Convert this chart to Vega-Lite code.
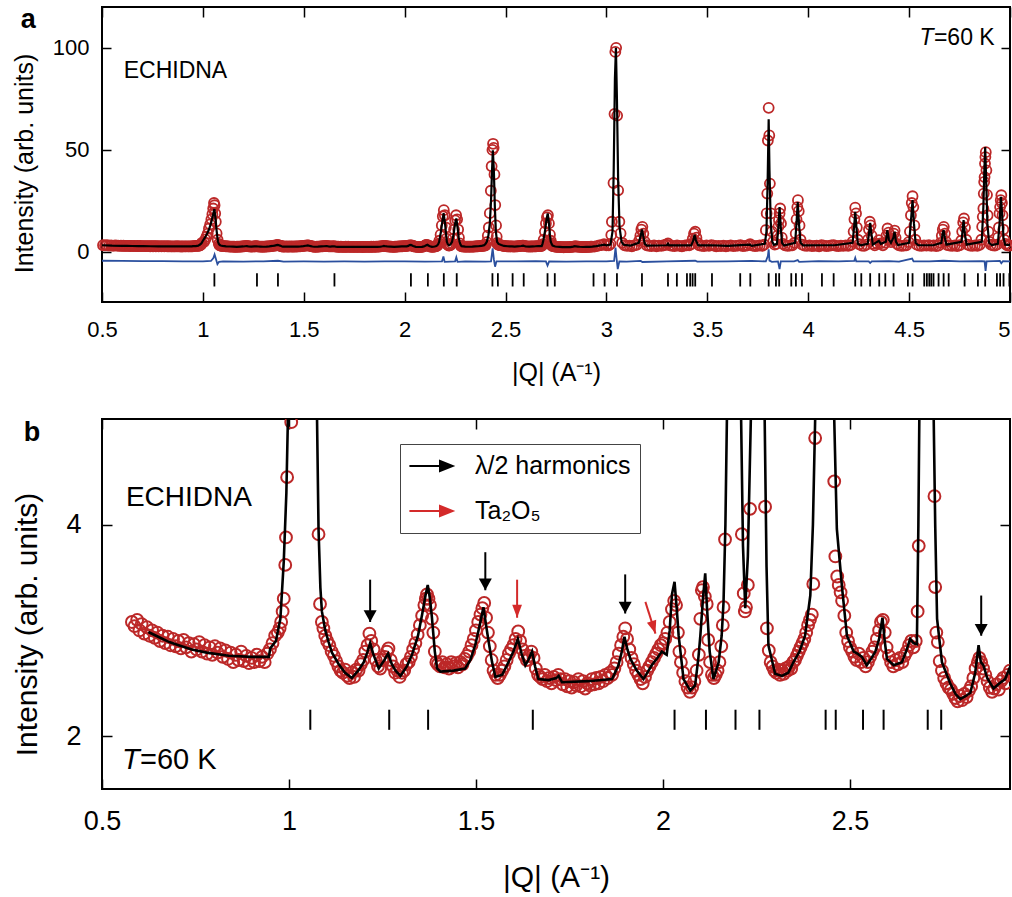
{
"$schema": "https://vega.github.io/schema/vega-lite/v6.json",
"background": "white",
"padding": {"left": 11, "top": 5, "right": 3, "bottom": 3},
"spacing": 31,
"datasets": {
"obs": [
{"q":0.505,"o":3.3},{"q":0.515,"o":3.2},{"q":0.525,"o":3.3},{"q":0.535,"o":3.1},{"q":0.545,"o":3.2},{"q":0.555,"o":3.0},{"q":0.565,"o":3.2},{"q":0.573,"o":3.1},
{"q":0.580,"o":3.08},{"q":0.587,"o":3.04},{"q":0.594,"o":3.10},{"q":0.600,"o":3.00},{"q":0.606,"o":3.06},{"q":0.613,"o":2.97},{"q":0.620,"o":3.03},{"q":0.627,"o":2.95},{"q":0.634,"o":3.00},{"q":0.641,"o":2.93},{"q":0.648,"o":2.98},{"q":0.655,"o":2.90},{"q":0.662,"o":2.95},{"q":0.669,"o":2.88},{"q":0.676,"o":2.94},{"q":0.683,"o":2.86},{"q":0.690,"o":2.92},{"q":0.697,"o":2.85},{"q":0.704,"o":2.90},{"q":0.711,"o":2.83},{"q":0.718,"o":2.91},{"q":0.725,"o":2.84},{"q":0.732,"o":2.88},{"q":0.739,"o":2.80},{"q":0.746,"o":2.87},{"q":0.753,"o":2.82},{"q":0.760,"o":2.89},{"q":0.767,"o":2.80},{"q":0.774,"o":2.86},{"q":0.781,"o":2.78},{"q":0.788,"o":2.84},{"q":0.795,"o":2.77},{"q":0.802,"o":2.85},{"q":0.809,"o":2.79},{"q":0.816,"o":2.83},{"q":0.823,"o":2.75},{"q":0.830,"o":2.81},{"q":0.837,"o":2.73},{"q":0.844,"o":2.79},{"q":0.851,"o":2.70},{"q":0.858,"o":2.77},{"q":0.865,"o":2.72},{"q":0.872,"o":2.80},{"q":0.879,"o":2.71},{"q":0.886,"o":2.76},{"q":0.893,"o":2.69},{"q":0.900,"o":2.74},{"q":0.907,"o":2.70},{"q":0.914,"o":2.77},{"q":0.921,"o":2.71},{"q":0.928,"o":2.75},{"q":0.935,"o":2.70},{"q":0.942,"o":2.78},{"q":0.949,"o":2.82},{"q":0.956,"o":2.88},{"q":0.963,"o":2.95},{"q":0.970,"o":2.98},{"q":0.975,"o":3.02},{"q":0.979,"o":3.08},{"q":0.983,"o":3.18},{"q":0.986,"o":3.30},{"q":0.990,"o":3.62},{"q":0.992,"o":3.88},{"q":0.995,"o":4.45},{"q":1.006,"o":4.97},{"q":1.012,"o":6.2},{"q":1.018,"o":7.5},{"q":1.024,"o":9.0},{"q":1.030,"o":11.5},{"q":1.036,"o":13.5},{"q":1.042,"o":16.0},{"q":1.047,"o":18.5},{"q":1.051,"o":21.3},{"q":1.055,"o":24.0},{"q":1.058,"o":22.9},{"q":1.061,"o":18.9},{"q":1.064,"o":14.8},{"q":1.068,"o":9.1},{"q":1.073,"o":6.0},{"q":1.079,"o":3.91},{"q":1.083,"o":3.25},{"q":1.088,"o":3.08},{"q":1.092,"o":3.02},{"q":1.097,"o":2.95},{"q":1.102,"o":2.90},{"q":1.108,"o":2.86},{"q":1.114,"o":2.80},{"q":1.120,"o":2.76},{"q":1.126,"o":2.71},{"q":1.132,"o":2.66},{"q":1.138,"o":2.62},{"q":1.144,"o":2.60},{"q":1.150,"o":2.63},{"q":1.156,"o":2.57},{"q":1.162,"o":2.55},{"q":1.168,"o":2.60},{"q":1.174,"o":2.56},{"q":1.180,"o":2.63},{"q":1.186,"o":2.62},{"q":1.192,"o":2.68},{"q":1.198,"o":2.72},{"q":1.204,"o":2.80},{"q":1.210,"o":2.86},{"q":1.215,"o":2.97},{"q":1.220,"o":2.90},{"q":1.226,"o":2.82},{"q":1.232,"o":2.72},{"q":1.238,"o":2.66},{"q":1.244,"o":2.64},{"q":1.250,"o":2.72},{"q":1.256,"o":2.75},{"q":1.262,"o":2.80},{"q":1.266,"o":2.83},{"q":1.272,"o":2.72},{"q":1.278,"o":2.66},{"q":1.284,"o":2.60},{"q":1.290,"o":2.62},{"q":1.296,"o":2.56},{"q":1.302,"o":2.60},{"q":1.308,"o":2.62},{"q":1.314,"o":2.68},{"q":1.320,"o":2.70},{"q":1.326,"o":2.75},{"q":1.332,"o":2.82},{"q":1.338,"o":2.88},{"q":1.344,"o":2.96},{"q":1.350,"o":3.05},{"q":1.356,"o":3.14},{"q":1.362,"o":3.24},{"q":1.366,"o":3.30},{"q":1.369,"o":3.34},{"q":1.373,"o":3.30},{"q":1.377,"o":3.24},{"q":1.382,"o":3.11},{"q":1.386,"o":2.98},{"q":1.390,"o":2.80},{"q":1.394,"o":2.70},{"q":1.398,"o":2.68},{"q":1.404,"o":2.66},{"q":1.410,"o":2.70},{"q":1.416,"o":2.65},{"q":1.422,"o":2.68},{"q":1.428,"o":2.64},{"q":1.434,"o":2.70},{"q":1.440,"o":2.66},{"q":1.446,"o":2.69},{"q":1.452,"o":2.65},{"q":1.458,"o":2.70},{"q":1.464,"o":2.68},{"q":1.470,"o":2.73},{"q":1.476,"o":2.76},{"q":1.482,"o":2.80},{"q":1.488,"o":2.86},{"q":1.494,"o":2.92},{"q":1.500,"o":3.00},{"q":1.506,"o":3.08},{"q":1.512,"o":3.15},{"q":1.517,"o":3.21},{"q":1.522,"o":3.26},{"q":1.527,"o":3.12},{"q":1.532,"o":2.98},{"q":1.537,"o":2.85},{"q":1.542,"o":2.72},{"q":1.547,"o":2.62},{"q":1.552,"o":2.58},{"q":1.558,"o":2.55},{"q":1.564,"o":2.58},{"q":1.570,"o":2.62},{"q":1.576,"o":2.66},{"q":1.582,"o":2.72},{"q":1.588,"o":2.78},{"q":1.594,"o":2.82},{"q":1.600,"o":2.86},{"q":1.606,"o":2.92},{"q":1.613,"o":2.99},{"q":1.618,"o":2.90},{"q":1.624,"o":2.82},{"q":1.630,"o":2.76},{"q":1.636,"o":2.72},{"q":1.642,"o":2.76},{"q":1.648,"o":2.80},{"q":1.654,"o":2.74},{"q":1.660,"o":2.64},{"q":1.666,"o":2.58},{"q":1.672,"o":2.56},{"q":1.678,"o":2.54},{"q":1.684,"o":2.58},{"q":1.690,"o":2.52},{"q":1.696,"o":2.55},{"q":1.702,"o":2.50},{"q":1.708,"o":2.56},{"q":1.714,"o":2.53},{"q":1.720,"o":2.58},{"q":1.726,"o":2.54},{"q":1.732,"o":2.49},{"q":1.738,"o":2.54},{"q":1.744,"o":2.47},{"q":1.750,"o":2.52},{"q":1.756,"o":2.46},{"q":1.762,"o":2.51},{"q":1.768,"o":2.48},{"q":1.774,"o":2.54},{"q":1.780,"o":2.47},{"q":1.786,"o":2.52},{"q":1.792,"o":2.45},{"q":1.798,"o":2.50},{"q":1.804,"o":2.48},{"q":1.810,"o":2.54},{"q":1.816,"o":2.49},{"q":1.822,"o":2.55},{"q":1.828,"o":2.50},{"q":1.834,"o":2.56},{"q":1.840,"o":2.52},{"q":1.846,"o":2.58},{"q":1.852,"o":2.55},{"q":1.858,"o":2.60},{"q":1.864,"o":2.58},{"q":1.870,"o":2.64},{"q":1.876,"o":2.70},{"q":1.882,"o":2.78},{"q":1.888,"o":2.86},{"q":1.894,"o":2.94},{"q":1.899,"o":3.02},{"q":1.904,"o":2.92},{"q":1.910,"o":2.82},{"q":1.916,"o":2.74},{"q":1.922,"o":2.68},{"q":1.928,"o":2.62},{"q":1.934,"o":2.58},{"q":1.940,"o":2.54},{"q":1.946,"o":2.50},{"q":1.952,"o":2.56},{"q":1.958,"o":2.62},{"q":1.964,"o":2.66},{"q":1.970,"o":2.70},{"q":1.976,"o":2.74},{"q":1.982,"o":2.78},{"q":1.988,"o":2.82},{"q":1.994,"o":2.86},{"q":2.000,"o":2.88},{"q":2.006,"o":2.92},{"q":2.012,"o":2.98},{"q":2.018,"o":3.08},{"q":2.024,"o":3.20},{"q":2.030,"o":3.28},{"q":2.035,"o":3.24},{"q":2.040,"o":2.98},{"q":2.044,"o":2.80},{"q":2.048,"o":2.70},{"q":2.054,"o":2.60},{"q":2.060,"o":2.52},{"q":2.066,"o":2.46},{"q":2.072,"o":2.42},{"q":2.078,"o":2.46},{"q":2.084,"o":2.52},{"q":2.090,"o":2.62},{"q":2.096,"o":2.77},{"q":2.100,"o":3.11},{"q":2.104,"o":3.38},{"q":2.107,"o":3.41},{"q":2.112,"o":3.32},{"q":2.117,"o":3.25},{"q":2.121,"o":2.91},{"q":2.126,"o":2.70},{"q":2.131,"o":2.58},{"q":2.136,"o":2.55},{"q":2.141,"o":2.58},{"q":2.146,"o":2.62},{"q":2.151,"o":2.70},{"q":2.156,"o":2.85},{"q":2.160,"o":3.05},{"q":2.162,"o":3.22},{"q":2.166,"o":3.86},{"q":2.172,"o":5.5},{"q":2.178,"o":8.5},{"q":2.184,"o":13.0},{"q":2.189,"o":17.5},{"q":2.194,"o":20.5},{"q":2.199,"o":18.0},{"q":2.204,"o":12.0},{"q":2.207,"o":6.5},{"q":2.211,"o":3.91},{"q":2.216,"o":3.35},{"q":2.219,"o":3.18},{"q":2.222,"o":3.22},{"q":2.227,"o":3.43},{"q":2.233,"o":4.15},{"q":2.239,"o":6.5},{"q":2.245,"o":11.0},{"q":2.250,"o":15.5},{"q":2.255,"o":18.0},{"q":2.260,"o":16.0},{"q":2.265,"o":11.0},{"q":2.269,"o":7.0},{"q":2.273,"o":4.17},{"q":2.278,"o":3.02},{"q":2.283,"o":2.81},{"q":2.288,"o":2.70},{"q":2.293,"o":2.66},{"q":2.298,"o":2.62},{"q":2.303,"o":2.60},{"q":2.308,"o":2.63},{"q":2.313,"o":2.58},{"q":2.318,"o":2.62},{"q":2.323,"o":2.59},{"q":2.328,"o":2.64},{"q":2.333,"o":2.62},{"q":2.338,"o":2.66},{"q":2.343,"o":2.64},{"q":2.348,"o":2.70},{"q":2.353,"o":2.72},{"q":2.358,"o":2.76},{"q":2.363,"o":2.80},{"q":2.368,"o":2.84},{"q":2.373,"o":2.88},{"q":2.378,"o":2.92},{"q":2.383,"o":2.98},{"q":2.388,"o":3.05},{"q":2.393,"o":3.10},{"q":2.398,"o":3.15},{"q":2.402,"o":3.44},{"q":2.407,"o":4.82},{"q":2.412,"o":8.0},{"q":2.417,"o":12.0},{"q":2.422,"o":19.0},{"q":2.427,"o":30.0},{"q":2.431,"o":42.0},{"q":2.435,"o":50.0},{"q":2.438,"o":53.0},{"q":2.441,"o":51.0},{"q":2.445,"o":38.0},{"q":2.449,"o":23.0},{"q":2.453,"o":13.0},{"q":2.456,"o":7.5},{"q":2.458,"o":4.41},{"q":2.461,"o":3.70},{"q":2.466,"o":3.51},{"q":2.470,"o":3.43},{"q":2.475,"o":3.36},{"q":2.479,"o":3.28},{"q":2.485,"o":3.14},{"q":2.490,"o":2.98},{"q":2.495,"o":2.90},{"q":2.500,"o":2.84},{"q":2.506,"o":2.80},{"q":2.512,"o":2.75},{"q":2.518,"o":2.72},{"q":2.524,"o":2.78},{"q":2.530,"o":2.70},{"q":2.536,"o":2.74},{"q":2.542,"o":2.66},{"q":2.548,"o":2.70},{"q":2.554,"o":2.75},{"q":2.560,"o":2.80},{"q":2.566,"o":2.84},{"q":2.572,"o":2.92},{"q":2.578,"o":3.00},{"q":2.583,"o":3.08},{"q":2.588,"o":3.10},{"q":2.593,"o":2.98},{"q":2.598,"o":2.84},{"q":2.604,"o":2.76},{"q":2.610,"o":2.70},{"q":2.616,"o":2.66},{"q":2.622,"o":2.72},{"q":2.628,"o":2.68},{"q":2.634,"o":2.74},{"q":2.640,"o":2.70},{"q":2.646,"o":2.76},{"q":2.652,"o":2.80},{"q":2.658,"o":2.86},{"q":2.664,"o":2.90},{"q":2.670,"o":2.84},{"q":2.676,"o":2.90},{"q":2.681,"o":3.18},{"q":2.684,"o":3.80},{"q":2.689,"o":6.0},{"q":2.695,"o":10.0},{"q":2.700,"o":14.0},{"q":2.705,"o":17.0},{"q":2.710,"o":18.0},{"q":2.715,"o":14.0},{"q":2.720,"o":8.5},{"q":2.724,"o":5.5},{"q":2.726,"o":4.27},{"q":2.728,"o":3.41},{"q":2.731,"o":2.98},{"q":2.735,"o":2.89},{"q":2.740,"o":2.71},{"q":2.746,"o":2.62},{"q":2.752,"o":2.55},{"q":2.758,"o":2.50},{"q":2.764,"o":2.46},{"q":2.770,"o":2.44},{"q":2.776,"o":2.40},{"q":2.782,"o":2.36},{"q":2.788,"o":2.33},{"q":2.794,"o":2.38},{"q":2.800,"o":2.34},{"q":2.806,"o":2.40},{"q":2.812,"o":2.37},{"q":2.818,"o":2.43},{"q":2.824,"o":2.47},{"q":2.830,"o":2.55},{"q":2.836,"o":2.64},{"q":2.842,"o":2.70},{"q":2.846,"o":2.74},{"q":2.851,"o":2.70},{"q":2.856,"o":2.64},{"q":2.862,"o":2.58},{"q":2.868,"o":2.52},{"q":2.874,"o":2.46},{"q":2.880,"o":2.42},{"q":2.886,"o":2.45},{"q":2.892,"o":2.49},{"q":2.898,"o":2.44},{"q":2.904,"o":2.52},{"q":2.910,"o":2.55},{"q":2.916,"o":2.50},{"q":2.922,"o":2.58},{"q":2.928,"o":2.62},
{"q":2.94,"o":2.6},{"q":2.952,"o":2.9},{"q":2.964,"o":3.2},{"q":2.976,"o":3.4},{"q":2.988,"o":3.8},{"q":3.0,"o":3.3},{"q":3.012,"o":3.2},{"q":3.02,"o":4.0},{"q":3.024,"o":8.3},{"q":3.027,"o":14.8},{"q":3.035,"o":33.8},{"q":3.040,"o":67.6},{"q":3.044,"o":98.0},{"q":3.048,"o":100.0},{"q":3.053,"o":66.8},{"q":3.058,"o":30.2},{"q":3.064,"o":14.8},{"q":3.070,"o":9.1},{"q":3.078,"o":4.5},{"q":3.09,"o":3.3},{"q":3.102,"o":3.0},{"q":3.114,"o":3.1},{"q":3.126,"o":2.8},{"q":3.138,"o":3.2},{"q":3.15,"o":3.5},{"q":3.162,"o":5.5},{"q":3.168,"o":8.0},{"q":3.173,"o":11.0},{"q":3.178,"o":12.3},{"q":3.183,"o":9.0},{"q":3.19,"o":5.0},{"q":3.2,"o":3.3},{"q":3.212,"o":3.0},{"q":3.224,"o":2.9},{"q":3.236,"o":3.2},{"q":3.248,"o":2.8},{"q":3.26,"o":3.1},{"q":3.272,"o":3.0},{"q":3.284,"o":3.3},{"q":3.296,"o":3.6},{"q":3.305,"o":4.2},{"q":3.314,"o":3.3},{"q":3.326,"o":3.0},{"q":3.338,"o":2.9},{"q":3.35,"o":3.2},{"q":3.362,"o":3.0},{"q":3.374,"o":2.8},{"q":3.386,"o":3.1},{"q":3.398,"o":3.3},{"q":3.41,"o":3.2},{"q":3.42,"o":3.9},{"q":3.428,"o":6.5},{"q":3.434,"o":9.0},{"q":3.44,"o":9.9},{"q":3.446,"o":7.0},{"q":3.452,"o":4.5},{"q":3.46,"o":3.3},{"q":3.472,"o":3.0},{"q":3.484,"o":2.9},{"q":3.496,"o":3.2},{"q":3.508,"o":3.0},{"q":3.52,"o":3.4},{"q":3.532,"o":3.1},{"q":3.544,"o":2.8},{"q":3.556,"o":3.0},{"q":3.568,"o":2.9},{"q":3.58,"o":3.1},{"q":3.592,"o":2.8},{"q":3.604,"o":3.0},{"q":3.616,"o":3.2},{"q":3.628,"o":2.9},{"q":3.64,"o":3.0},{"q":3.652,"o":3.1},{"q":3.664,"o":3.3},{"q":3.676,"o":2.9},{"q":3.688,"o":3.0},{"q":3.7,"o":3.2},{"q":3.712,"o":3.8},{"q":3.724,"o":3.1},{"q":3.736,"o":2.9},{"q":3.748,"o":3.0},{"q":3.76,"o":3.2},{"q":3.772,"o":3.0},{"q":3.782,"o":3.6},{"q":3.79,"o":10.7},{"q":3.794,"o":18.9},{"q":3.797,"o":28.6},{"q":3.800,"o":54.6},{"q":3.804,"o":70.6},{"q":3.807,"o":57.1},{"q":3.810,"o":33.5},{"q":3.815,"o":18.9},{"q":3.820,"o":10.0},{"q":3.826,"o":5.0},{"q":3.834,"o":3.6},{"q":3.842,"o":4.0},{"q":3.848,"o":8.0},{"q":3.852,"o":12.4},{"q":3.855,"o":15.6},{"q":3.858,"o":18.9},{"q":3.861,"o":21.3},{"q":3.865,"o":14.0},{"q":3.869,"o":7.0},{"q":3.875,"o":4.0},{"q":3.885,"o":3.2},{"q":3.897,"o":3.0},{"q":3.909,"o":3.1},{"q":3.921,"o":3.3},{"q":3.932,"o":4.5},{"q":3.938,"o":9.0},{"q":3.942,"o":16.0},{"q":3.946,"o":22.0},{"q":3.949,"o":25.4},{"q":3.953,"o":20.0},{"q":3.957,"o":13.0},{"q":3.962,"o":6.0},{"q":3.97,"o":3.6},{"q":3.982,"o":3.1},{"q":3.994,"o":3.0},{"q":4.006,"o":3.2},{"q":4.018,"o":2.9},{"q":4.03,"o":3.0},{"q":4.042,"o":3.1},{"q":4.054,"o":2.8},{"q":4.066,"o":3.3},{"q":4.078,"o":3.1},{"q":4.09,"o":2.9},{"q":4.102,"o":3.0},{"q":4.114,"o":3.2},{"q":4.126,"o":3.4},{"q":4.138,"o":3.0},{"q":4.15,"o":2.9},{"q":4.162,"o":3.1},{"q":4.174,"o":3.0},{"q":4.186,"o":3.2},{"q":4.198,"o":3.0},{"q":4.21,"o":3.4},{"q":4.22,"o":5.0},{"q":4.225,"o":10.0},{"q":4.229,"o":16.0},{"q":4.233,"o":21.7},{"q":4.237,"o":18.9},{"q":4.241,"o":12.0},{"q":4.246,"o":6.0},{"q":4.253,"o":3.8},{"q":4.265,"o":3.1},{"q":4.277,"o":3.0},{"q":4.289,"o":3.6},{"q":4.296,"o":6.0},{"q":4.301,"o":11.0},{"q":4.305,"o":14.8},{"q":4.309,"o":13.0},{"q":4.314,"o":8.0},{"q":4.32,"o":4.0},{"q":4.33,"o":3.2},{"q":4.342,"o":4.0},{"q":4.35,"o":5.8},{"q":4.358,"o":4.2},{"q":4.37,"o":3.3},{"q":4.382,"o":4.5},{"q":4.388,"o":8.0},{"q":4.393,"o":11.5},{"q":4.398,"o":9.5},{"q":4.404,"o":6.0},{"q":4.41,"o":4.8},{"q":4.418,"o":6.0},{"q":4.424,"o":9.0},{"q":4.428,"o":10.5},{"q":4.433,"o":7.0},{"q":4.44,"o":4.0},{"q":4.45,"o":3.2},{"q":4.462,"o":3.0},{"q":4.474,"o":3.1},{"q":4.486,"o":3.3},{"q":4.498,"o":4.8},{"q":4.504,"o":10.0},{"q":4.509,"o":18.0},{"q":4.513,"o":24.0},{"q":4.517,"o":27.3},{"q":4.521,"o":22.0},{"q":4.526,"o":13.0},{"q":4.531,"o":6.0},{"q":4.538,"o":3.6},{"q":4.55,"o":3.1},{"q":4.562,"o":3.0},{"q":4.574,"o":3.2},{"q":4.586,"o":3.1},{"q":4.598,"o":3.3},{"q":4.61,"o":3.0},{"q":4.622,"o":3.2},{"q":4.634,"o":2.9},{"q":4.646,"o":3.1},{"q":4.656,"o":4.5},{"q":4.662,"o":8.0},{"q":4.667,"o":11.0},{"q":4.672,"o":12.3},{"q":4.677,"o":9.0},{"q":4.683,"o":5.0},{"q":4.69,"o":3.4},{"q":4.702,"o":3.1},{"q":4.714,"o":3.0},{"q":4.726,"o":3.2},{"q":4.738,"o":2.9},{"q":4.75,"o":3.3},{"q":4.758,"o":5.5},{"q":4.763,"o":10.0},{"q":4.768,"o":14.5},{"q":4.772,"o":16.4},{"q":4.777,"o":12.0},{"q":4.783,"o":6.0},{"q":4.79,"o":3.6},{"q":4.802,"o":3.1},{"q":4.814,"o":3.0},{"q":4.826,"o":3.2},{"q":4.838,"o":3.0},{"q":4.85,"o":3.5},{"q":4.858,"o":6.0},{"q":4.862,"o":12.4},{"q":4.865,"o":17.2},{"q":4.868,"o":21.3},{"q":4.870,"o":28.6},{"q":4.872,"o":34.3},{"q":4.874,"o":36.7},{"q":4.876,"o":43.3},{"q":4.878,"o":46.5},{"q":4.880,"o":48.9},{"q":4.883,"o":40.0},{"q":4.886,"o":28.0},{"q":4.889,"o":18.0},{"q":4.893,"o":10.0},{"q":4.898,"o":5.0},{"q":4.905,"o":3.6},{"q":4.915,"o":3.2},{"q":4.925,"o":3.1},{"q":4.935,"o":3.6},{"q":4.941,"o":7.0},{"q":4.945,"o":12.0},{"q":4.948,"o":18.9},{"q":4.951,"o":22.0},{"q":4.954,"o":25.4},{"q":4.957,"o":27.8},{"q":4.96,"o":24.0},{"q":4.963,"o":18.0},{"q":4.967,"o":11.0},{"q":4.972,"o":6.0},{"q":4.978,"o":4.0},{"q":4.986,"o":3.3},{"q":4.994,"o":3.1},{"q":5.0,"o":3.2}
],
"calc": [
{"q":0.50,"c":3.30},{"q":0.55,"c":3.10},{"q":0.60,"c":3.02},{"q":0.624,"c":2.985},{"q":0.65,"c":2.94},{"q":0.68,"c":2.89},{"q":0.705,"c":2.86},{"q":0.74,"c":2.82},{"q":0.78,"c":2.79},{"q":0.839,"c":2.76},{"q":0.90,"c":2.75},{"q":0.946,"c":2.75},{"q":0.95,"c":2.83},{"q":0.965,"c":2.90},{"q":0.977,"c":3.11},{"q":0.986,"c":3.65},{"q":0.993,"c":4.30},{"q":1.000,"c":5.50},{"q":1.010,"c":7.0},{"q":1.020,"c":8.8},{"q":1.030,"c":11.0},{"q":1.040,"c":14.0},{"q":1.050,"c":18.0},{"q":1.057,"c":21.0},{"q":1.063,"c":16.0},{"q":1.068,"c":10.5},{"q":1.072,"c":7.0},{"q":1.075,"c":5.0},{"q":1.079,"c":3.96},{"q":1.084,"c":3.40},{"q":1.088,"c":3.18},{"q":1.097,"c":3.00},{"q":1.106,"c":2.89},{"q":1.115,"c":2.79},{"q":1.133,"c":2.68},{"q":1.150,"c":2.60},{"q":1.168,"c":2.55},{"q":1.185,"c":2.62},{"q":1.200,"c":2.70},{"q":1.210,"c":2.80},{"q":1.217,"c":2.88},{"q":1.225,"c":2.78},{"q":1.240,"c":2.64},{"q":1.255,"c":2.72},{"q":1.265,"c":2.78},{"q":1.275,"c":2.68},{"q":1.285,"c":2.62},{"q":1.298,"c":2.57},{"q":1.315,"c":2.66},{"q":1.329,"c":2.77},{"q":1.345,"c":2.95},{"q":1.356,"c":3.15},{"q":1.365,"c":3.33},{"q":1.371,"c":3.43},{"q":1.377,"c":3.30},{"q":1.382,"c":3.13},{"q":1.390,"c":2.80},{"q":1.396,"c":2.64},{"q":1.405,"c":2.61},{"q":1.440,"c":2.62},{"q":1.471,"c":2.64},{"q":1.485,"c":2.72},{"q":1.498,"c":2.86},{"q":1.510,"c":3.05},{"q":1.520,"c":3.22},{"q":1.527,"c":3.05},{"q":1.534,"c":2.89},{"q":1.543,"c":2.70},{"q":1.552,"c":2.56},{"q":1.570,"c":2.58},{"q":1.587,"c":2.70},{"q":1.600,"c":2.80},{"q":1.612,"c":2.92},{"q":1.622,"c":2.78},{"q":1.632,"c":2.67},{"q":1.640,"c":2.72},{"q":1.650,"c":2.80},{"q":1.658,"c":2.66},{"q":1.667,"c":2.54},{"q":1.694,"c":2.53},{"q":1.715,"c":2.55},{"q":1.721,"c":2.57},{"q":1.730,"c":2.51},{"q":1.800,"c":2.52},{"q":1.864,"c":2.54},{"q":1.881,"c":2.67},{"q":1.890,"c":2.80},{"q":1.897,"c":2.94},{"q":1.905,"c":2.82},{"q":1.913,"c":2.73},{"q":1.930,"c":2.62},{"q":1.948,"c":2.54},{"q":1.970,"c":2.67},{"q":1.985,"c":2.74},{"q":1.997,"c":2.80},{"q":2.010,"c":2.77},{"q":2.018,"c":3.00},{"q":2.024,"c":3.34},{"q":2.031,"c":3.46},{"q":2.037,"c":3.20},{"q":2.042,"c":2.95},{"q":2.055,"c":2.54},{"q":2.073,"c":2.43},{"q":2.086,"c":2.48},{"q":2.095,"c":2.75},{"q":2.100,"c":2.95},{"q":2.107,"c":3.30},{"q":2.113,"c":3.54},{"q":2.118,"c":3.20},{"q":2.125,"c":2.80},{"q":2.135,"c":2.54},{"q":2.149,"c":2.70},{"q":2.157,"c":2.95},{"q":2.162,"c":3.27},{"q":2.167,"c":4.00},{"q":2.171,"c":5.00},{"q":2.180,"c":10.0},{"q":2.188,"c":16.0},{"q":2.193,"c":19.0},{"q":2.200,"c":14.0},{"q":2.205,"c":9.0},{"q":2.209,"c":5.0},{"q":2.214,"c":3.8},{"q":2.220,"c":3.21},{"q":2.227,"c":3.70},{"q":2.235,"c":5.0},{"q":2.243,"c":9.0},{"q":2.250,"c":14.0},{"q":2.256,"c":16.4},{"q":2.262,"c":12.0},{"q":2.268,"c":7.0},{"q":2.272,"c":5.0},{"q":2.277,"c":3.6},{"q":2.282,"c":2.86},{"q":2.300,"c":2.59},{"q":2.318,"c":2.57},{"q":2.335,"c":2.60},{"q":2.349,"c":2.70},{"q":2.365,"c":2.80},{"q":2.380,"c":2.95},{"q":2.394,"c":3.33},{"q":2.401,"c":4.0},{"q":2.407,"c":5.0},{"q":2.415,"c":8.0},{"q":2.422,"c":14.0},{"q":2.428,"c":25.0},{"q":2.433,"c":40.0},{"q":2.437,"c":49.8},{"q":2.442,"c":40.0},{"q":2.447,"c":22.0},{"q":2.452,"c":10.0},{"q":2.458,"c":5.0},{"q":2.465,"c":3.96},{"q":2.479,"c":3.40},{"q":2.492,"c":2.95},{"q":2.510,"c":2.80},{"q":2.520,"c":2.78},{"q":2.532,"c":2.75},{"q":2.545,"c":2.67},{"q":2.558,"c":2.74},{"q":2.568,"c":2.80},{"q":2.578,"c":2.92},{"q":2.587,"c":3.12},{"q":2.593,"c":2.90},{"q":2.599,"c":2.73},{"q":2.617,"c":2.67},{"q":2.639,"c":2.70},{"q":2.650,"c":2.80},{"q":2.661,"c":2.92},{"q":2.670,"c":2.88},{"q":2.679,"c":2.87},{"q":2.683,"c":4.0},{"q":2.688,"c":6.0},{"q":2.695,"c":10.0},{"q":2.703,"c":16.0},{"q":2.709,"c":18.9},{"q":2.715,"c":14.0},{"q":2.720,"c":8.0},{"q":2.724,"c":5.0},{"q":2.728,"c":4.0},{"q":2.733,"c":3.11},{"q":2.746,"c":2.70},{"q":2.768,"c":2.50},{"q":2.782,"c":2.40},{"q":2.795,"c":2.35},{"q":2.810,"c":2.38},{"q":2.822,"c":2.41},{"q":2.835,"c":2.60},{"q":2.844,"c":2.86},{"q":2.850,"c":2.70},{"q":2.857,"c":2.67},{"q":2.867,"c":2.55},{"q":2.884,"c":2.45},{"q":2.900,"c":2.50},{"q":2.915,"c":2.54},{"q":2.930,"c":2.67},
{"q":2.95,"c":2.9},{"q":2.99,"c":3.6},{"q":3.0,"c":3.2},{"q":3.02,"c":3.6},{"q":3.03,"c":10.0},{"q":3.036,"c":40.0},{"q":3.042,"c":85.0},{"q":3.047,"c":100.0},{"q":3.052,"c":75.0},{"q":3.058,"c":35.0},{"q":3.065,"c":12.0},{"q":3.075,"c":5.0},{"q":3.085,"c":3.5},{"q":3.12,"c":3.1},{"q":3.16,"c":4.5},{"q":3.17,"c":8.0},{"q":3.176,"c":11.0},{"q":3.182,"c":8.0},{"q":3.19,"c":4.0},{"q":3.2,"c":3.1},{"q":3.3,"c":3.3},{"q":3.305,"c":4.0},{"q":3.31,"c":3.2},{"q":3.42,"c":3.2},{"q":3.43,"c":5.5},{"q":3.437,"c":8.5},{"q":3.444,"c":5.5},{"q":3.455,"c":3.2},{"q":3.52,"c":3.3},{"q":3.6,"c":3.0},{"q":3.71,"c":3.6},{"q":3.72,"c":3.0},{"q":3.785,"c":4.0},{"q":3.793,"c":10.0},{"q":3.799,"c":35.0},{"q":3.804,"c":65.0},{"q":3.808,"c":40.0},{"q":3.814,"c":15.0},{"q":3.822,"c":5.0},{"q":3.83,"c":3.5},{"q":3.845,"c":4.0},{"q":3.852,"c":12.0},{"q":3.858,"c":22.0},{"q":3.864,"c":12.0},{"q":3.87,"c":4.5},{"q":3.88,"c":3.2},{"q":3.935,"c":4.5},{"q":3.942,"c":14.0},{"q":3.948,"c":24.5},{"q":3.954,"c":14.0},{"q":3.962,"c":4.5},{"q":3.975,"c":3.2},{"q":4.07,"c":3.3},{"q":4.13,"c":3.3},{"q":4.22,"c":4.5},{"q":4.228,"c":13.0},{"q":4.233,"c":19.7},{"q":4.239,"c":12.0},{"q":4.246,"c":4.0},{"q":4.26,"c":3.3},{"q":4.295,"c":4.0},{"q":4.302,"c":10.0},{"q":4.307,"c":14.3},{"q":4.313,"c":9.0},{"q":4.32,"c":3.6},{"q":4.35,"c":5.5},{"q":4.36,"c":4.0},{"q":4.385,"c":5.0},{"q":4.392,"c":10.7},{"q":4.4,"c":6.0},{"q":4.41,"c":4.5},{"q":4.422,"c":7.0},{"q":4.428,"c":9.9},{"q":4.435,"c":5.0},{"q":4.445,"c":3.4},{"q":4.5,"c":4.5},{"q":4.509,"c":15.0},{"q":4.517,"c":25.4},{"q":4.524,"c":14.0},{"q":4.532,"c":4.5},{"q":4.545,"c":3.3},{"q":4.62,"c":3.3},{"q":4.66,"c":4.5},{"q":4.666,"c":9.0},{"q":4.671,"c":10.7},{"q":4.677,"c":7.0},{"q":4.685,"c":3.6},{"q":4.76,"c":5.0},{"q":4.766,"c":12.0},{"q":4.77,"c":15.6},{"q":4.776,"c":9.0},{"q":4.785,"c":3.6},{"q":4.86,"c":5.0},{"q":4.868,"c":22.0},{"q":4.873,"c":40.0},{"q":4.877,"c":51.4},{"q":4.882,"c":35.0},{"q":4.888,"c":14.0},{"q":4.896,"c":4.5},{"q":4.91,"c":3.4},{"q":4.94,"c":4.0},{"q":4.949,"c":15.0},{"q":4.955,"c":27.0},{"q":4.961,"c":18.0},{"q":4.968,"c":7.0},{"q":4.976,"c":3.6},{"q":5.0,"c":3.4}
],
"diff": [
{"q":0.50,"d":-4.3},{"q":0.60,"d":-4.4},{"q":0.70,"d":-4.5},{"q":0.80,"d":-4.5},{"q":0.90,"d":-4.6},{"q":1.00,"d":-4.6},{"q":1.04,"d":-4.4},{"q":1.052,"d":-3.0},{"q":1.058,"d":-1.2},{"q":1.064,"d":-3.2},{"q":1.072,"d":-6.0},{"q":1.08,"d":-4.8},{"q":1.10,"d":-4.6},{"q":1.20,"d":-4.7},{"q":1.30,"d":-4.6},{"q":1.372,"d":-4.3},{"q":1.40,"d":-4.7},{"q":1.50,"d":-4.6},{"q":1.60,"d":-4.7},{"q":1.70,"d":-4.6},{"q":1.80,"d":-4.7},{"q":1.90,"d":-4.6},{"q":2.00,"d":-4.6},{"q":2.10,"d":-4.7},{"q":2.185,"d":-4.6},{"q":2.192,"d":-2.2},{"q":2.198,"d":-4.8},{"q":2.25,"d":-4.6},{"q":2.256,"d":-2.6},{"q":2.262,"d":-4.8},{"q":2.30,"d":-4.6},{"q":2.40,"d":-4.7},{"q":2.428,"d":-4.6},{"q":2.436,"d":1.8},{"q":2.442,"d":-3.5},{"q":2.448,"d":-7.2},{"q":2.455,"d":-4.6},{"q":2.55,"d":-4.6},{"q":2.65,"d":-4.5},{"q":2.70,"d":-4.6},{"q":2.708,"d":-6.6},{"q":2.716,"d":-4.6},{"q":2.80,"d":-4.7},{"q":2.90,"d":-4.6},{"q":3.00,"d":-4.6},{"q":3.038,"d":-4.4},{"q":3.045,"d":2.2},{"q":3.05,"d":-3.0},{"q":3.056,"d":-8.4},{"q":3.064,"d":-4.6},{"q":3.10,"d":-4.7},{"q":3.17,"d":-4.4},{"q":3.178,"d":-4.9},{"q":3.30,"d":-4.6},{"q":3.44,"d":-4.3},{"q":3.45,"d":-4.7},{"q":3.60,"d":-4.6},{"q":3.72,"d":-4.4},{"q":3.79,"d":-4.6},{"q":3.800,"d":-2.0},{"q":3.804,"d":1.3},{"q":3.808,"d":-4.2},{"q":3.82,"d":-4.8},{"q":3.85,"d":-4.6},{"q":3.858,"d":-8.4},{"q":3.864,"d":-4.6},{"q":3.93,"d":-4.6},{"q":3.948,"d":-4.0},{"q":3.955,"d":-4.8},{"q":4.05,"d":-4.5},{"q":4.15,"d":-4.6},{"q":4.228,"d":-4.4},{"q":4.233,"d":-2.9},{"q":4.238,"d":-4.6},{"q":4.30,"d":-4.6},{"q":4.307,"d":-5.4},{"q":4.315,"d":-4.6},{"q":4.40,"d":-4.5},{"q":4.45,"d":-4.7},{"q":4.515,"d":-3.2},{"q":4.522,"d":-4.6},{"q":4.60,"d":-4.6},{"q":4.67,"d":-4.3},{"q":4.75,"d":-4.6},{"q":4.86,"d":-4.5},{"q":4.874,"d":-4.6},{"q":4.879,"d":-9.3},{"q":4.884,"d":-4.6},{"q":4.95,"d":-4.4},{"q":4.957,"d":-5.5},{"q":4.965,"d":-4.5},{"q":5.0,"d":-4.6}
],
"bragg": [
{"q":1.057},{"q":1.268},{"q":1.372},{"q":1.652},{"q":2.031},{"q":2.115},{"q":2.194},{"q":2.258},{"q":2.435},{"q":2.462},{"q":2.535},{"q":2.590},{"q":2.708},{"q":2.744},{"q":2.936},{"q":2.991},{"q":3.052},{"q":3.176},{"q":3.305},{"q":3.349},{"q":3.399},{"q":3.415},{"q":3.427},{"q":3.440},{"q":3.523},{"q":3.663},{"q":3.713},{"q":3.804},{"q":3.840},{"q":3.856},{"q":3.916},{"q":3.939},{"q":3.969},{"q":4.068},{"q":4.126},{"q":4.233},{"q":4.263},{"q":4.307},{"q":4.352},{"q":4.382},{"q":4.423},{"q":4.494},{"q":4.517},{"q":4.575},{"q":4.588},{"q":4.600},{"q":4.610},{"q":4.621},{"q":4.646},{"q":4.671},{"q":4.696},{"q":4.775},{"q":4.841},{"q":4.877},{"q":4.935},{"q":4.951},{"q":4.968},{"q":4.997}
],
"arrows": [
{"kind":"λ/2 harmonics","q":1.217,"y":3.48,"q2":1.217,"y2":3.08},
{"kind":"λ/2 harmonics","q":1.525,"y":3.74,"q2":1.525,"y2":3.38},
{"kind":"λ/2 harmonics","q":1.899,"y":3.53,"q2":1.899,"y2":3.16},
{"kind":"λ/2 harmonics","q":2.851,"y":3.33,"q2":2.851,"y2":2.95},
{"kind":"Ta₂O₅","q":1.61,"y":3.48,"q2":1.61,"y2":3.12},
{"kind":"Ta₂O₅","q":1.953,"y":3.27,"q2":1.98,"y2":2.97}
]
},
"vconcat": [
{
"width": 908, "height": 295,
"resolve": {"axis": {"x": "independent", "y": "independent"}},
"layer": [
{"data": {"name": "obs"},
 "mark": {"type": "point", "shape": "circle", "filled": false, "size": 100, "strokeWidth": 1.8, "color": "#bc2828", "opacity": 1},
 "encoding": {
  "x": {"field": "q", "type": "quantitative", "scale": {"domain": [0.5, 5.0], "nice": false, "zero": false},
        "axis": {"orient": "bottom", "values": [0.5,1,1.5,2,2.5,3,3.5,4,4.5,5], "format": "~g", "tickSize": -10, "labelPadding": 27, "labelFontSize": 22,
                 "labelAlign": {"condition": {"test": "datum.value >= 4.99", "value": "right"}, "value": "center"},
                 "title": "|Q| (A⁻¹)", "titleFontSize": 25, "titlePadding": 20}},
  "y": {"field": "o", "type": "quantitative", "scale": {"domain": [-24.5, 120], "nice": false, "zero": false},
        "axis": {"orient": "left", "values": [0, 50, 100], "tickSize": -9, "labelPadding": 22, "labelFontSize": 22,
                 "title": "Intensity (arb. units)", "titleFontSize": 25, "titlePadding": 15, "titleY": 156}}
 }},
{"data": {"name": "calc"},
 "mark": {"type": "line", "color": "black", "strokeWidth": 2.2},
 "encoding": {
  "x": {"field": "q", "type": "quantitative", "scale": {"domain": [0.5, 5.0], "nice": false, "zero": false}, "axis": null},
  "y": {"field": "c", "type": "quantitative", "scale": {"domain": [-24.5, 120], "nice": false, "zero": false}, "axis": null}
 }},
{"data": {"name": "diff"},
 "mark": {"type": "line", "color": "#2a4f9e", "strokeWidth": 1.8},
 "encoding": {
  "x": {"field": "q", "type": "quantitative", "scale": {"domain": [0.5, 5.0], "nice": false, "zero": false}, "axis": null},
  "y": {"field": "d", "type": "quantitative", "scale": {"domain": [-24.5, 120], "nice": false, "zero": false}, "axis": null}
 }},
{"data": {"name": "bragg"},
 "mark": {"type": "rule", "color": "black", "strokeWidth": 1.8},
 "encoding": {
  "x": {"field": "q", "type": "quantitative", "scale": {"domain": [0.5, 5.0], "nice": false, "zero": false},
        "axis": {"orient": "top", "values": [0.5,1,1.5,2,2.5,3,3.5,4,4.5,5], "tickSize": -10, "labels": false, "title": null}},
  "y": {"datum": -10.4, "type": "quantitative", "scale": {"domain": [-24.5, 120], "nice": false, "zero": false},
        "axis": {"orient": "right", "values": [0, 50, 100], "tickSize": -9, "labels": false, "title": null}},
  "y2": {"datum": -16.9}
 }},
{"data": {"values": [{"q": 0.6075, "v": 88.8, "t": "ECHIDNA"}]},
 "mark": {"type": "text", "fontSize": 23, "align": "left", "baseline": "middle"},
 "encoding": {
  "x": {"field": "q", "type": "quantitative", "scale": {"domain": [0.5, 5.0], "nice": false, "zero": false}, "axis": null},
  "y": {"field": "v", "type": "quantitative", "scale": {"domain": [-24.5, 120], "nice": false, "zero": false}, "axis": null},
  "text": {"field": "t"}
 }},
{"data": {"values": [{"q": 4.924, "v": 105, "t": "=60 K"}]},
 "mark": {"type": "text", "fontSize": 23, "align": "right", "baseline": "middle"},
 "encoding": {
  "x": {"field": "q", "type": "quantitative", "scale": {"domain": [0.5, 5.0], "nice": false, "zero": false}, "axis": null},
  "y": {"field": "v", "type": "quantitative", "scale": {"domain": [-24.5, 120], "nice": false, "zero": false}, "axis": null},
  "text": {"field": "t"}
 }},
{"data": {"values": [{"q": 4.924, "v": 105, "t": "T"}]},
 "mark": {"type": "text", "fontSize": 23, "fontStyle": "italic", "align": "right", "baseline": "middle", "dx": -61},
 "encoding": {
  "x": {"field": "q", "type": "quantitative", "scale": {"domain": [0.5, 5.0], "nice": false, "zero": false}, "axis": null},
  "y": {"field": "v", "type": "quantitative", "scale": {"domain": [-24.5, 120], "nice": false, "zero": false}, "axis": null},
  "text": {"field": "t"}
 }},
{"data": {"values": [{"q": 0.135, "v": 113.5, "t": "a"}]},
 "mark": {"type": "text", "fontSize": 27, "fontWeight": "bold", "align": "center", "baseline": "middle"},
 "encoding": {
  "x": {"field": "q", "type": "quantitative", "scale": {"domain": [0.5, 5.0], "nice": false, "zero": false}, "axis": null},
  "y": {"field": "v", "type": "quantitative", "scale": {"domain": [-24.5, 120], "nice": false, "zero": false}, "axis": null},
  "text": {"field": "t"}
 }}
]
},
{
"width": 908, "height": 370,
"resolve": {"axis": {"x": "independent", "y": "independent"}},
"layer": [
{"data": {"name": "obs"},
 "transform": [{"filter": "datum.q >= 0.578 && datum.q <= 2.935"}],
 "mark": {"type": "point", "shape": "circle", "filled": false, "size": 140, "strokeWidth": 2, "color": "#bc2828", "opacity": 1, "clip": true},
 "encoding": {
  "x": {"field": "q", "type": "quantitative", "scale": {"domain": [0.5, 2.928], "nice": false, "zero": false},
        "axis": {"orient": "bottom", "values": [0.5,1,1.5,2,2.5], "format": "~g", "tickSize": -10, "labelPadding": 29, "labelFontSize": 27,
                 "title": "|Q| (A⁻¹)", "titleFontSize": 30, "titlePadding": 28}},
  "y": {"field": "o", "type": "quantitative", "scale": {"domain": [1.5, 5.0], "nice": false, "zero": false},
        "axis": {"orient": "left", "values": [2, 4], "tickSize": -10, "labelPadding": 31, "labelFontSize": 27,
                 "title": "Intensity (arb. units)", "titleFontSize": 30, "titlePadding": 23, "titleY": 205}}
 }},
{"data": {"name": "calc"},
 "transform": [{"filter": "datum.q >= 0.62 && datum.q <= 2.96"}],
 "mark": {"type": "line", "color": "black", "strokeWidth": 2.6, "clip": true},
 "encoding": {
  "x": {"field": "q", "type": "quantitative", "scale": {"domain": [0.5, 2.928], "nice": false, "zero": false}, "axis": null},
  "y": {"field": "c", "type": "quantitative", "scale": {"domain": [1.5, 5.0], "nice": false, "zero": false}, "axis": null}
 }},
{"data": {"name": "bragg"},
 "transform": [{"filter": "datum.q <= 2.92"}],
 "mark": {"type": "rule", "color": "black", "strokeWidth": 2},
 "encoding": {
  "x": {"field": "q", "type": "quantitative", "scale": {"domain": [0.5, 2.928], "nice": false, "zero": false},
        "axis": {"orient": "top", "values": [0.5,1,1.5,2,2.5], "tickSize": -10, "labels": false, "title": null}},
  "y": {"datum": 2.25, "type": "quantitative", "scale": {"domain": [1.5, 5.0], "nice": false, "zero": false},
        "axis": {"orient": "right", "values": [2, 4], "tickSize": -10, "labels": false, "title": null}},
  "y2": {"datum": 2.06}
 }},
{"data": {"name": "arrows"},
 "mark": {"type": "rule", "strokeWidth": 2},
 "encoding": {
  "x": {"field": "q", "type": "quantitative", "scale": {"domain": [0.5, 2.928], "nice": false, "zero": false}, "axis": null},
  "y": {"field": "y", "type": "quantitative", "scale": {"domain": [1.5, 5.0], "nice": false, "zero": false}, "axis": null},
  "x2": {"field": "q2"},
  "y2": {"field": "y2"},
  "color": {"field": "kind", "type": "nominal",
            "scale": {"domain": ["λ/2 harmonics", "Ta₂O₅"], "range": ["black", "#d42a2a"]},
            "legend": {"orient": "none", "legendX": 298, "legendY": 25, "title": null,
                       "symbolType": "M-1.8,0H0.9M0.75,-0.42L1.8,0L0.75,0.42Z", "symbolSize": 576, "symbolStrokeWidth": 2,
                       "labelFontSize": 25, "labelFont": "Liberation Sans", "labelColor": "black", "labelOffset": 31, "symbolOffset": 9,
                       "padding": 9, "rowPadding": 19, "strokeColor": "#444444", "fillColor": "white",
                       "encode": {"symbols": {"update": {"fill": {"signal": "datum.value === 'Ta₂O₅' ? '#d42a2a' : 'black'"}}}}}}
 }},
{"data": {"name": "arrows"},
 "transform": [{"filter": "datum.kind === 'λ/2 harmonics'"}],
 "mark": {"type": "point", "shape": "M0,0L-1,-1.8L1,-1.8Z", "size": 169, "filled": true, "color": "black", "opacity": 1, "strokeWidth": 0},
 "encoding": {
  "x": {"field": "q2", "type": "quantitative", "scale": {"domain": [0.5, 2.928], "nice": false, "zero": false}, "axis": null},
  "y": {"field": "y2", "type": "quantitative", "scale": {"domain": [1.5, 5.0], "nice": false, "zero": false}, "axis": null}
 }},
{"data": {"name": "arrows"},
 "transform": [{"filter": "datum.kind === 'Ta₂O₅' && datum.q === datum.q2"}],
 "mark": {"type": "point", "shape": "M0,0L-0.75,-2L0.75,-2Z", "size": 169, "filled": true, "color": "#d42a2a", "opacity": 1, "strokeWidth": 0},
 "encoding": {
  "x": {"field": "q2", "type": "quantitative", "scale": {"domain": [0.5, 2.928], "nice": false, "zero": false}, "axis": null},
  "y": {"field": "y2", "type": "quantitative", "scale": {"domain": [1.5, 5.0], "nice": false, "zero": false}, "axis": null}
 }},
{"data": {"name": "arrows"},
 "transform": [{"filter": "datum.q !== datum.q2"}],
 "mark": {"type": "point", "shape": "M0,0L-0.75,-2L0.75,-2Z", "size": 169, "filled": true, "color": "#d42a2a", "opacity": 1, "strokeWidth": 0, "angle": 342.5},
 "encoding": {
  "x": {"field": "q2", "type": "quantitative", "scale": {"domain": [0.5, 2.928], "nice": false, "zero": false}, "axis": null},
  "y": {"field": "y2", "type": "quantitative", "scale": {"domain": [1.5, 5.0], "nice": false, "zero": false}, "axis": null}
 }},
{"data": {"values": [{"q": 0.564, "v": 4.249, "t": "ECHIDNA"}]},
 "mark": {"type": "text", "fontSize": 28, "align": "left", "baseline": "middle"},
 "encoding": {
  "x": {"field": "q", "type": "quantitative", "scale": {"domain": [0.5, 2.928], "nice": false, "zero": false}, "axis": null},
  "y": {"field": "v", "type": "quantitative", "scale": {"domain": [1.5, 5.0], "nice": false, "zero": false}, "axis": null},
  "text": {"field": "t"}
 }},
{"data": {"values": [{"q": 0.5535, "v": 1.77, "t": "T"}]},
 "mark": {"type": "text", "fontSize": 29, "fontStyle": "italic", "align": "left", "baseline": "middle"},
 "encoding": {
  "x": {"field": "q", "type": "quantitative", "scale": {"domain": [0.5, 2.928], "nice": false, "zero": false}, "axis": null},
  "y": {"field": "v", "type": "quantitative", "scale": {"domain": [1.5, 5.0], "nice": false, "zero": false}, "axis": null},
  "text": {"field": "t"}
 }},
{"data": {"values": [{"q": 0.5535, "v": 1.77, "t": "=60 K"}]},
 "mark": {"type": "text", "fontSize": 29, "align": "left", "baseline": "middle", "dx": 18},
 "encoding": {
  "x": {"field": "q", "type": "quantitative", "scale": {"domain": [0.5, 2.928], "nice": false, "zero": false}, "axis": null},
  "y": {"field": "v", "type": "quantitative", "scale": {"domain": [1.5, 5.0], "nice": false, "zero": false}, "axis": null},
  "text": {"field": "t"}
 }},
{"data": {"values": [{"q": 0.313, "v": 4.87, "t": "b"}]},
 "mark": {"type": "text", "fontSize": 27, "fontWeight": "bold", "align": "center", "baseline": "middle"},
 "encoding": {
  "x": {"field": "q", "type": "quantitative", "scale": {"domain": [0.5, 2.928], "nice": false, "zero": false}, "axis": null},
  "y": {"field": "v", "type": "quantitative", "scale": {"domain": [1.5, 5.0], "nice": false, "zero": false}, "axis": null},
  "text": {"field": "t"}
 }}
]
}
],
"resolve": {"scale": {"x": "independent", "y": "independent", "color": "independent"}, "legend": {"color": "independent"}},
"config": {
 "view": {"stroke": "black", "strokeWidth": 2},
 "axis": {"grid": false, "domain": false, "ticks": true, "tickColor": "black", "tickWidth": 1.5, "labelColor": "black", "titleColor": "black",
          "labelFont": "Liberation Sans", "titleFont": "Liberation Sans", "titleFontWeight": "normal", "labelFlush": false, "labelOverlap": false},
 "text": {"font": "Liberation Sans", "color": "black"}
}
}
